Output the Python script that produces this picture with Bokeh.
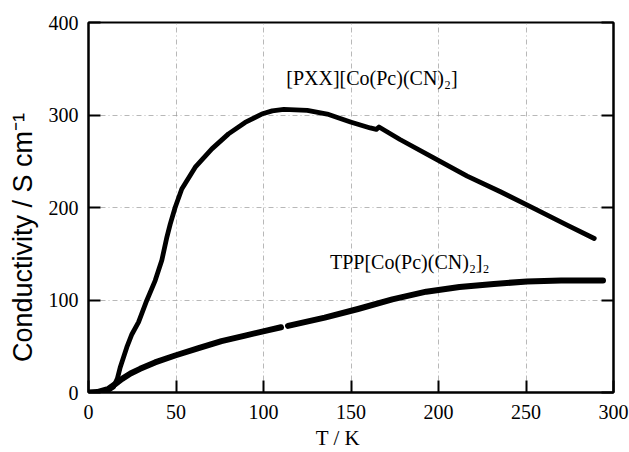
import numpy as np
from bokeh.plotting import figure
from bokeh.models import Range1d, LinearAxis, SingleIntervalTicker, Label, CustomJSTickFormatter
from bokeh.embed import file_html
from bokeh.resources import INLINE

# [PXX][Co(Pc)(CN)2] conductivity vs temperature
pxx_T = [2, 7.6, 11, 14.3, 16.5, 18.1, 21.9, 24.8, 28.6, 33.3, 38.1, 41.9, 44.8, 46.7, 49.5,
         53.3, 61, 70.5, 80, 89.5, 99, 105, 111.6, 125, 136.4, 149.7, 161, 164.5, 166, 178,
         197, 216.4, 235.4, 254.5, 273.5, 289]
pxx_sigma = [0, 0.5, 2, 6, 15, 27, 49, 63, 76, 99.5, 121, 143, 168, 182, 200,
             220, 243.6, 263.4, 279.6, 292, 301, 304.5, 306, 305, 301, 292.5, 286, 284.5, 287, 273.5,
             254, 234, 217, 199, 181, 166.5]

# TPP[Co(Pc)(CN)2]2 conductivity vs temperature (gap near 112 K)
tpp_T = [0, 5, 11.5, 15.5, 19.2, 24, 29.5, 38, 49.5, 62.9, 76, 89.5, 102.9, 110, np.nan, 114,
         135, 154, 173.6, 193, 212, 231.6, 250.6, 270, 294]
tpp_sigma = [0, 0.5, 4, 9.5, 14.7, 20.5, 25.6, 32.5, 40, 48, 55.5, 61.5, 67.5, 70.5, np.nan, 72,
             81, 90.3, 100.7, 109, 114, 117.4, 120, 121, 121]

x_tick_step = 50
y_tick_step = 100
x_limits = (0, 300)
y_limits = (0, 400)

label_pxx = "[PXX][Co(Pc)(CN)\u2082]"
label_tpp = "TPP[Co(Pc)(CN)\u2082]\u2082"
y_title = "Conductivity / S cm\u207b\u00b9"
x_title = "T / K"

SERIF = "Liberation Serif"
SANS = "Liberation Sans"

p = figure(width=629, height=452, output_backend="svg", toolbar_location=None,
           x_range=Range1d(*x_limits), y_range=Range1d(*y_limits),
           min_border_left=88, min_border_right=16, min_border_top=22, min_border_bottom=60)

p.background_fill_color = "white"
p.border_fill_color = "white"
p.outline_line_color = "black"
p.outline_line_width = 2

for ax in (p.xaxis[0], p.yaxis[0]):
    ax.axis_line_width = 2
    ax.major_tick_line_width = 2
    ax.major_tick_in = 12
    ax.major_tick_out = 0
    ax.minor_tick_line_color = None
    ax.major_label_text_font = SERIF
    ax.major_label_text_font_size = "20px"
    ax.major_label_text_color = "black"

p.xaxis[0].ticker = SingleIntervalTicker(interval=x_tick_step)
p.yaxis[0].ticker = SingleIntervalTicker(interval=y_tick_step)
p.xaxis[0].major_label_standoff = 8
p.yaxis[0].major_label_standoff = 6

# y title: trailing no-break spaces shift the visible text downwards, as in the reference
p.yaxis[0].axis_label = y_title + "\u00a0" * 8
p.yaxis[0].axis_label_text_font = SANS
p.yaxis[0].axis_label_text_font_size = "27px"
p.yaxis[0].axis_label_text_font_style = "normal"
p.yaxis[0].axis_label_text_color = "black"
p.yaxis[0].axis_label_standoff = 8

# x title: trailing no-break spaces shift it slightly left, as in the reference
p.xaxis[0].axis_label = x_title + "\u00a0" * 5
p.xaxis[0].axis_label_text_font = SERIF
p.xaxis[0].axis_label_text_font_size = "21px"
p.xaxis[0].axis_label_text_font_style = "normal"
p.xaxis[0].axis_label_text_color = "black"
p.xaxis[0].axis_label_standoff = 4

right = LinearAxis(ticker=SingleIntervalTicker(interval=y_tick_step),
                   formatter=CustomJSTickFormatter(code="return ''"))
right.major_tick_in = 12
right.major_tick_out = 0
right.major_tick_line_width = 2
right.axis_line_width = 2
right.minor_tick_line_color = None
right.major_label_standoff = 0
p.add_layout(right, "right")

p.grid.grid_line_color = "#9a9a9a"
p.grid.grid_line_dash = "5 3 1 3"
p.grid.grid_line_width = 1
p.grid.grid_line_alpha = 0.7
p.xgrid.ticker = SingleIntervalTicker(interval=x_tick_step)
p.ygrid.ticker = SingleIntervalTicker(interval=y_tick_step)

p.line(pxx_T, pxx_sigma, line_color="black", line_width=4.8, line_join="round", line_cap="round")
p.line(tpp_T, tpp_sigma, line_color="black", line_width=6, line_join="round", line_cap="round")

p.add_layout(Label(x=113, y=328, text=label_pxx, text_font=SERIF, text_font_size="20px",
                   text_color="black"))
p.add_layout(Label(x=138, y=129, text=label_tpp, text_font=SERIF, text_font_size="20px",
                   text_color="black"))

open("out.html", "w").write(file_html(p, INLINE))
